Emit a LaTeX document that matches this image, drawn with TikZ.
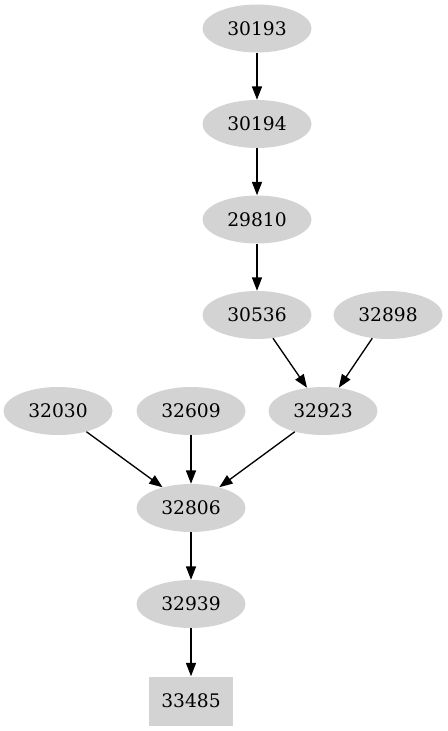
\documentclass[tikz,border=0pt]{standalone}
\usepackage{fontspec}
\setmainfont{DejaVu Serif}
\usepackage{tikz}
\usetikzlibrary{arrows.meta,shapes.geometric}
\definecolor{nodegray}{RGB}{211,211,211}
\tikzset{job/.style={ellipse,fill=nodegray,inner sep=0pt,minimum width=81.75pt,minimum height=36pt},
  sinkjob/.style={rectangle,fill=nodegray,inner sep=0pt,minimum width=63pt,minimum height=36.75pt}}

\begin{document}
\begin{tikzpicture}[x=0.75pt,y=-0.75pt,>={Triangle[length=10pt,width=7.5pt]},line join=round,font=\fontsize{14pt}{16pt}\selectfont]
\useasboundingbox (0,0) rectangle (447,731);
% --- jobs
\node[job] (n30193) at (257,28.5) {30193};
\node[job] (n30194) at (257,124) {30194};
\node[job] (n29810) at (257,219.5) {29810};
\node[job] (n30536) at (257,315) {30536};
\node[job] (n32898) at (388,315) {32898};
\node[job] (n32030) at (58,411) {32030};
\node[job] (n32609) at (191,411) {32609};
\node[job] (n32923) at (323,411) {32923};
\node[job] (n32806) at (191,508) {32806};
\node[job] (n32939) at (191,604) {32939};
\node[sinkjob] (n33485) at (191,701) {33485};
% --- dependencies
\draw[->,line width=1pt] (n30193) -- (n30194);
\draw[->,line width=1pt] (n30194) -- (n29810);
\draw[->,line width=1pt] (n29810) -- (n30536);
\draw[->,line width=1pt] (n30536) -- (n32923);
\draw[->,line width=1pt] (n32898) -- (n32923);
\draw[->,line width=1pt] (n32030) -- (n32806);
\draw[->,line width=1pt] (n32609) -- (n32806);
\draw[->,line width=1pt] (n32923) -- (n32806);
\draw[->,line width=1pt] (n32806) -- (n32939);
\draw[->,line width=1pt] (n32939) -- (n33485);
\end{tikzpicture}
\end{document}
